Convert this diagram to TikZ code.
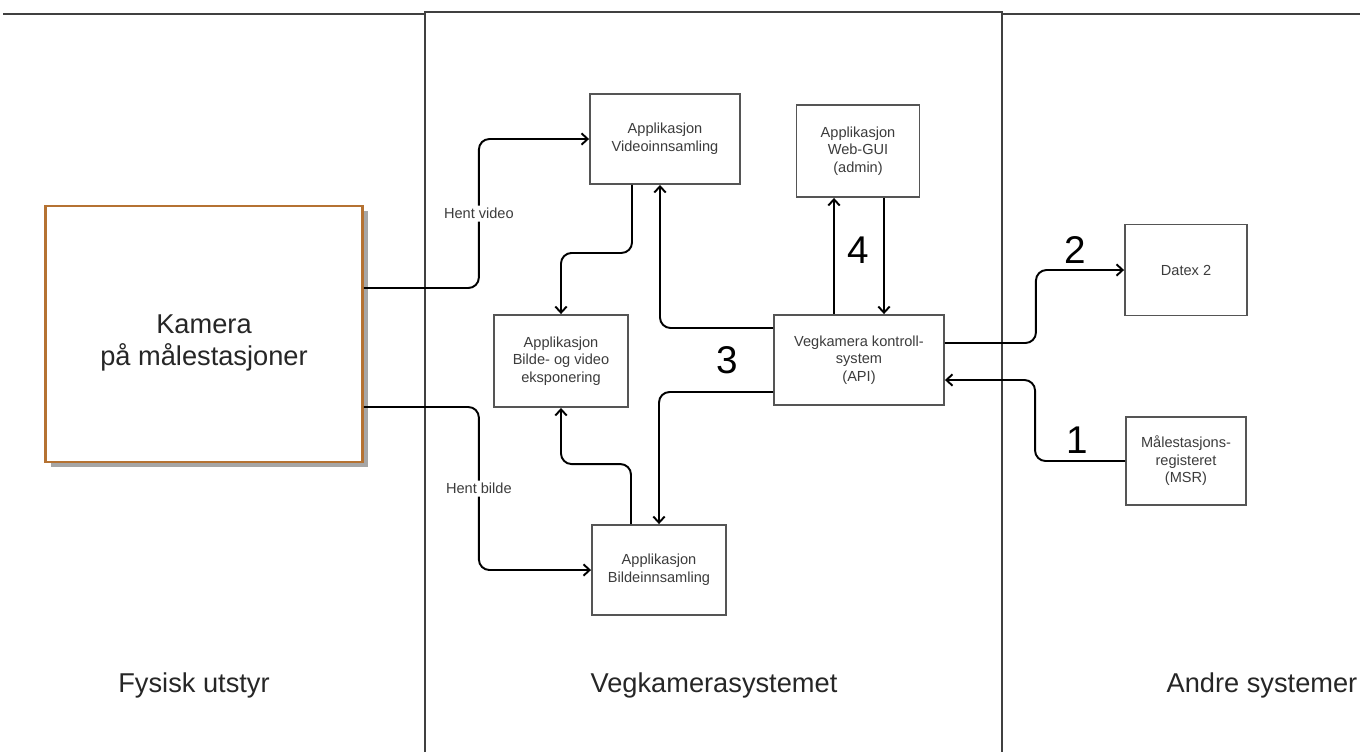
\documentclass[tikz,border=0pt]{standalone}
\usepackage{fontspec}
\setmainfont{Liberation Sans}
\usetikzlibrary{positioning,arrows.meta,calc,shadows}
\definecolor{kamborder}{RGB}{181,114,50}
\definecolor{boxline}{RGB}{85,85,85}
\definecolor{boxtext}{RGB}{60,60,60}

\begin{document}
\begin{tikzpicture}[
    x=0.02cm, y=-0.02cm,
    box/.style={rectangle, draw=boxline, line width=1.1pt, fill=white, align=center, font=\fontsize{8.3}{10}\selectfont, text=boxtext, inner sep=2pt},
    kambox/.style={rectangle, draw=kamborder, line width=1.6pt, fill=white, minimum width=6.34cm, minimum height=5.12cm, align=center, font=\fontsize{15.5}{18.7}\selectfont, text=black!85, drop shadow={shadow xshift=3pt, shadow yshift=-3pt, fill=black!35, opacity=1}},
    arrow/.style={-{Straight Barb[length=3.5pt,width=6.5pt]}, line width=1.1pt, rounded corners=6pt},
    lbl/.style={fill=white, font=\fontsize{8.3}{9}\selectfont, text=boxtext, inner sep=1.5pt},
    num/.style={font=\fontsize{22}{24}\selectfont},
    zone/.style={font=\fontsize{15.5}{18}\selectfont, text=black!85},
    frame/.style={line width=1.2pt, draw=black!75}
]
\useasboundingbox (0,0) rectangle (1360,752);

\draw[frame] (3,14) -- (425,14);
\draw[frame] (425,752) -- (425,12) -- (1002,12) -- (1002,752);
\draw[frame] (1002,14) -- (1360,14);

\node[kambox] (kam) at (204,334) {};
\node[align=center, font=\fontsize{15.5}{18.7}\selectfont, text=black!85] (kamtxt) at (204,343) {Kamera\\på målestasjoner};
\node[box, minimum width=3.0cm, minimum height=1.8cm] (vid) at (665,139) {Applikasjon\\Videoinnsamling};
\node[box, minimum width=2.46cm, minimum height=1.84cm] (gui) at (858,151) {Applikasjon\\Web-GUI\\(admin)};
\node[box, minimum width=3.4cm, minimum height=1.8cm] (api) at (859,360) {Vegkamera kontroll-\\system\\(API)};
\node[box, minimum width=2.68cm, minimum height=1.84cm] (eksp) at (561,361) {Applikasjon\\Bilde- og video\\eksponering};
\node[box, minimum width=2.68cm, minimum height=1.8cm] (bilde) at (659,570) {Applikasjon\\Bildeinnsamling};
\node[box, minimum width=2.44cm, minimum height=1.82cm] (datex) at (1186,270) {Datex 2};
\node[box, minimum width=2.4cm, minimum height=1.76cm] (msr) at (1186,461) {Målestasjons-\\registeret\\(MSR)};

\node[num] (n3) at (727,360) {3};
\node[num] (n4) at (858,250) {4};
\node[num] (n2) at (1075,250) {2};
\node[num] (n1) at (1077,440) {1};

\node[zone] (fysisk) at (194,685) {Fysisk utstyr};
\node[zone] (vegsys) at (714,685) {Vegkamerasystemet};
\node[zone] (andre) at (1262,685) {Andre systemer};

\draw[arrow] ($(kam.east)+(0,-46)$) -- ++(115,0) |- node[pos=0.25, lbl] {Hent video} (vid.west);
\draw[arrow] ($(kam.east)+(0,73)$) -- ++(115,0) |- node[pos=0.25, lbl] {Hent bilde} (bilde.west);
\draw[arrow] ($(vid.south)+(-33,0)$) -- ++(0,68) -| (eksp.north);
\draw[arrow] ($(bilde.north)+(-28,0)$) -- ++(0,-60) -| (eksp.south);
\draw[arrow] ($(api.west)+(0,-32)$) -| ($(vid.south)+(-5,0)$);
\draw[arrow] ($(api.west)+(0,32)$) -| (bilde.north);
\draw[arrow] ($(api.north)+(-25,0)$) coordinate (a1) -- (a1 |- gui.south);
\draw[arrow] ($(gui.south)+(26,0)$) coordinate (g1) -- (g1 |- api.north);
\draw[arrow] ($(api.east)+(0,-17)$) -- ++(91,0) |- (datex.west);
\draw[arrow] (msr.west) -- ++(-90,0) |- ($(api.east)+(0,20)$);
\end{tikzpicture}
\end{document}
